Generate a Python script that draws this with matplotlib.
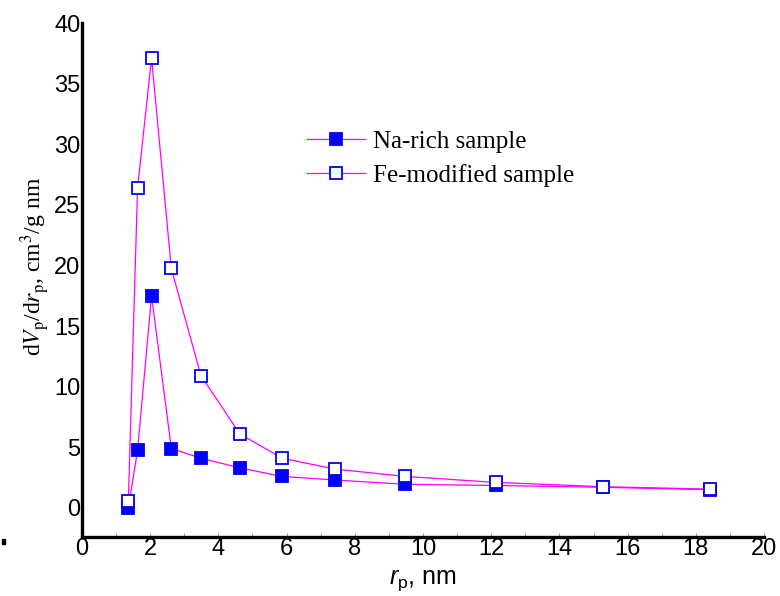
import matplotlib
matplotlib.use("Agg")
import matplotlib.pyplot as plt
from matplotlib.patches import Rectangle

plt.rcParams['font.family'] = 'Liberation Sans'
plt.rcParams['mathtext.fontset'] = 'custom'
plt.rcParams['mathtext.rm'] = 'Liberation Sans'
plt.rcParams['mathtext.it'] = 'Liberation Sans:italic'

# pore radius, nm
r_p = [1.36, 1.63, 2.04, 2.62, 3.49, 4.63, 5.87, 7.42, 9.47, 12.14, 15.28, 18.42]
# dVp/drp, cm3/g nm
na_rich = [0.0, 4.75, 17.5, 4.9, 4.1, 3.3, 2.6, 2.3, 1.95, 1.85, 1.7, 1.5]
fe_mod = [0.6, 26.4, 37.1, 19.75, 10.9, 6.1, 4.1, 3.2, 2.6, 2.1, 1.75, 1.55]

fig = plt.figure(figsize=(7.8, 5.96), dpi=100)
ax = fig.add_axes([0.1051, 0.099, 0.8744, 0.8624])

line_kw = dict(color='#ff00ff', lw=0.9, marker='s', markersize=8,
               markeredgecolor='#0000ff', markeredgewidth=1.3)
ax.plot(r_p, na_rich, markerfacecolor='#0000ff', label='Na-rich sample', **line_kw)
ax.plot(r_p, fe_mod, markerfacecolor='white', label='Fe-modified sample', **line_kw)

ax.set_xlim(0, 20)
ax.set_ylim(-2.4, 40)
ax.set_xticks(range(0, 21, 2))
ax.set_xticks(range(0, 21), minor=True)
ax.set_yticks(range(0, 41, 5))

for s in ['top', 'right']:
    ax.spines[s].set_visible(False)
for s in ['left', 'bottom']:
    ax.spines[s].set_linewidth(2.4)

ax.tick_params(axis='x', which='both', direction='in', length=3, width=0.6,
               color='#888888', labelsize=17, pad=1)
ax.tick_params(axis='y', length=0, labelsize=17, pad=1)

ax.set_xlabel(r'$r_\mathrm{p}$, nm', fontsize=18, labelpad=6)
ax.set_ylabel(r'd$V_\mathrm{p}$/d$r_\mathrm{p}$, cm$^3$/g nm', fontsize=17,
              family='Liberation Serif', math_fontfamily='stix')
ax.yaxis.set_label_coords(-0.044, 0.527)

leg = ax.legend(loc='upper left', bbox_to_anchor=(0.297, 0.835), frameon=False,
                prop={'family': 'Liberation Serif', 'size': 18},
                handlelength=2.3, handletextpad=0.35, labelspacing=0.45)

fig.add_artist(Rectangle((0.002, 0.088), 0.005, 0.007, color='black',
                         transform=fig.transFigure))

fig.savefig('out.png', dpi=100)
